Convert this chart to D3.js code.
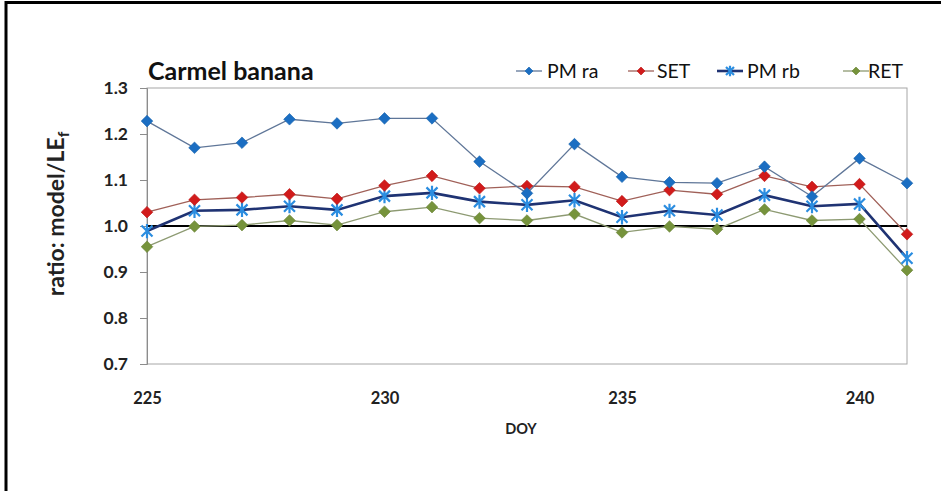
<!DOCTYPE html>
<html>
<head>
<meta charset="utf-8">
<script src="https://cdn.jsdelivr.net/npm/d3@7"></script>
<style>
  body { margin: 0; background: #fff; }
  svg { display: block; font-family: Lato, "Open Sans", sans-serif; }
</style>
</head>
<body>
<svg id="chart" width="941" height="491"></svg>
<script>
// day of year
var days = [225, 226, 227, 228, 229, 230, 231, 232, 233, 234, 235, 236, 237, 238, 239, 240, 241];

// ratio model / LEf for each model
var pmRa  = [1.228, 1.170, 1.181, 1.232, 1.223, 1.234, 1.234, 1.140, 1.071, 1.178, 1.107, 1.095, 1.093, 1.129, 1.064, 1.147, 1.093];
var setV  = [1.030, 1.057, 1.062, 1.069, 1.059, 1.088, 1.109, 1.082, 1.087, 1.085, 1.054, 1.078, 1.069, 1.109, 1.085, 1.091, 0.982];
var pmRb  = [0.989, 1.033, 1.035, 1.043, 1.035, 1.065, 1.072, 1.053, 1.046, 1.056, 1.019, 1.033, 1.024, 1.067, 1.043, 1.048, 0.930];
var retV  = [0.955, 0.999, 1.002, 1.012, 1.002, 1.031, 1.041, 1.017, 1.012, 1.026, 0.986, 0.999, 0.993, 1.036, 1.012, 1.015, 0.904];

var seriesNames = ["PM ra", "SET", "PM rb", "RET"];
var yTicks = [0.7, 0.8, 0.9, 1.0, 1.1, 1.2, 1.3];
var xTicks = [225, 230, 235, 240];

var series = [
    {name: seriesNames[0], values: pmRa, line: "#5f7698", lineW: 1.3, fill: "#1b6ec2", marker: "diamond", lx: 516, tx: 547},
    {name: seriesNames[1], values: setV, line: "#a06058", lineW: 1.3, fill: "#d11b1b", marker: "diamond", lx: 628, tx: 657},
    {name: seriesNames[2], values: pmRb, line: "#1f3373", lineW: 2.6, fill: "#2b8de0", marker: "star",    lx: 717, tx: 747},
    {name: seriesNames[3], values: retV, line: "#8d9a72", lineW: 1.3, fill: "#76933c", marker: "diamond", lx: 843, tx: 868}
];

var svg = d3.select("#chart");

var x = d3.scaleLinear().domain([225, 241]).range([147, 907]);
var y = d3.scaleLinear().domain([0.7, 1.3]).range([364, 88]);

// outer frame (top + left only visible)
svg.append("path")
    .attr("d", "M6,491 L6,2.5 L941,2.5")
    .attr("fill", "none")
    .attr("stroke", "#000")
    .attr("stroke-width", 3);

// plot area border
svg.append("rect")
    .attr("x", x(225)).attr("y", y(1.3))
    .attr("width", x(241) - x(225)).attr("height", y(0.7) - y(1.3))
    .attr("fill", "none")
    .attr("stroke", "#a6a6a6")
    .attr("stroke-width", 1);

// y axis
var yAxis = d3.axisLeft(y).tickValues(yTicks).tickSize(7).tickPadding(12)
    .tickFormat(d3.format(".1f"));
var gy = svg.append("g").attr("transform", "translate(" + x(225) + ",0)").call(yAxis);
gy.select(".domain").attr("stroke", "#8c8c8c");
gy.selectAll(".tick line").attr("stroke", "#8c8c8c");
gy.selectAll("text")
    .attr("font-size", 17.5).attr("font-weight", 700).attr("fill", "#222")
    .attr("font-family", "Lato, sans-serif");

// x axis labels (axis crosses at 1.0, labels low)
var xAxis = d3.axisBottom(x).tickValues(xTicks).tickSize(0).tickPadding(0);
var gx = svg.append("g").attr("transform", "translate(0,392)").call(xAxis);
gx.select(".domain").remove();
gx.selectAll("text")
    .attr("font-size", 16.5).attr("font-weight", 700).attr("fill", "#222")
    .attr("font-family", "Lato, sans-serif");

// horizontal axis line at 1.0
svg.append("line")
    .attr("x1", x(225)).attr("x2", x(241))
    .attr("y1", y(1.0)).attr("y2", y(1.0))
    .attr("stroke", "#000").attr("stroke-width", 2);

// axis titles
svg.append("text")
    .attr("x", (x(225) + x(241)) / 2 - 6).attr("y", 434)
    .attr("text-anchor", "middle")
    .attr("font-size", 14.5).attr("font-weight", 700).attr("fill", "#222")
    .text("DOY");

var yt = svg.append("text")
    .attr("transform", "translate(64,214) rotate(-90)")
    .attr("text-anchor", "middle")
    .attr("font-size", 23).attr("font-weight", 700).attr("fill", "#222");
yt.append("tspan").text("ratio: model/LE");
yt.append("tspan").attr("font-size", 15.5).attr("dy", 5).text("f");

// title
svg.append("text")
    .attr("x", 148).attr("y", 80)
    .attr("font-size", 25).attr("font-weight", 700).attr("fill", "#111")
    .text("Carmel banana");

var diamond = d3.symbol().type(d3.symbolSquare);
function markerPath(type, r) {
    if (type === "star") {
        return "M" + (-r) + "," + (-r) + "L" + r + "," + r +
               "M" + (-r) + "," + r + "L" + r + "," + (-r) +
               "M0," + (-r * 1.3) + "L0," + (r * 1.3);
    }
    return diamond.size(r * r * 2)();
}

function drawMarker(g, s, cx, cy, r) {
    if (s.marker === "star") {
        g.append("path")
            .attr("transform", "translate(" + cx + "," + cy + ")")
            .attr("d", markerPath("star", r))
            .attr("fill", "none").attr("stroke", s.fill).attr("stroke-width", 2.2);
    } else {
        g.append("path")
            .attr("transform", "translate(" + cx + "," + cy + ") rotate(45)")
            .attr("d", markerPath("diamond", r))
            .attr("fill", s.fill).attr("stroke", d3.color(s.fill).darker(0.3)).attr("stroke-width", 0.6);
    }
}

var line = d3.line()
    .x(function (d, i) { return x(days[i]); })
    .y(function (d) { return y(d); });

// draw in reverse order so PM ra sits on top
series.slice().reverse().forEach(function (s) {
    var g = svg.append("g");
    g.append("path")
        .attr("d", line(s.values))
        .attr("fill", "none")
        .attr("stroke", s.line)
        .attr("stroke-width", s.lineW);
    s.values.forEach(function (v, i) {
        drawMarker(g, s, x(days[i]), y(v), s.marker === "star" ? 5.5 : 5.8);
    });
});

// legend
var lg = svg.append("g");
series.forEach(function (s) {
    var ly = 71;
    lg.append("line")
        .attr("x1", s.lx).attr("x2", s.lx + 26)
        .attr("y1", ly).attr("y2", ly)
        .attr("stroke", s.line).attr("stroke-width", s.lineW);
    drawMarker(lg, s, s.lx + 13, ly, 4);
    lg.append("text")
        .attr("x", s.tx).attr("y", ly + 7)
        .attr("font-size", 19.5).attr("fill", "#111")
        .text(s.name);
});
</script>
</body>
</html>
